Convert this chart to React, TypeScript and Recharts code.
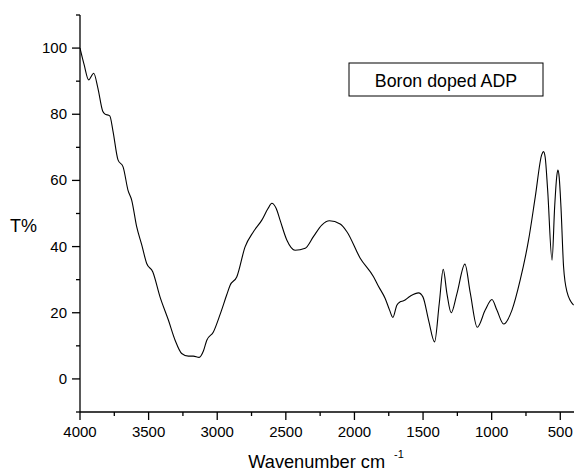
import React from 'react';
import { LineChart, Line, XAxis, YAxis, Customized } from 'recharts';

const wavenumbers = [
  4000, 3970, 3937, 3900, 3870, 3835, 3820, 3783, 3760, 3723, 3686, 3650, 3623, 3587, 3550,
  3514, 3470, 3417, 3356, 3307, 3259, 3210, 3174, 3132, 3100, 3076, 3028, 2979, 2930, 2906,
  2857, 2797, 2736, 2675, 2630, 2602, 2570, 2542, 2493, 2433, 2359, 2299, 2238, 2182, 2104,
  2055, 1958, 1861, 1825, 1776, 1744, 1720, 1691, 1667, 1642, 1594, 1533, 1501, 1460, 1416,
  1382, 1353, 1326, 1295, 1253, 1195, 1156, 1105, 1047, 998, 962, 913, 852, 792, 731,
  682, 635, 622, 610, 592, 560, 541, 525, 517, 508, 495, 476, 451, 403,
];

const transmittance = [
  100, 95, 90.4, 92.4, 88, 81, 80.1, 79.5, 75, 66.2, 64.1, 57, 54, 46, 40.5,
  34.9, 32.4, 24.8, 17.8, 11.7, 7.7, 6.9, 6.9, 6.5, 8.5, 11.7, 14.2, 19.5, 25.5, 28.3,
  30.9, 39.9, 44.5, 48.0, 51.5, 53.1, 51.5, 48.0, 42, 38.9, 39.5, 43, 46.5, 47.8, 46.8,
  44.5, 36.5, 30.9, 28, 24.3, 20.8, 18.6, 22.3, 23.3, 23.6, 25.0, 26.0, 24.8, 17.8, 11.2,
  22.8, 33.1, 25.8, 20.0, 25.8, 34.7, 26, 15.6, 20.8, 24.0, 20.8, 16.6, 20.8, 29.9, 42.0,
  55.1, 67.8, 68.7, 67, 57.1, 35.9, 52, 61.5, 63.1, 61, 52, 33.9, 26.3, 22.3,
];

const xTicks = [4000, 3750, 3500, 3250, 3000, 2750, 2500, 2250, 2000, 1750, 1500, 1250, 1000, 750, 500];
const xLabels = [4000, 3500, 3000, 2500, 2000, 1500, 1000, 500];
const yTicks = [-10, 0, 10, 20, 30, 40, 50, 60, 70, 80, 90, 100, 110];
const yLabels = [0, 20, 40, 60, 80, 100];

const legendText = 'Boron doped ADP';
const yTitle = 'T%';
const xTitle = 'Wavenumber cm';
const xTitleSup = '-1';

const data = wavenumbers.map((w, i) => ({ w, t: transmittance[i] }));

const FONT = '"Liberation Sans", Arial, Helvetica, sans-serif';

const XTick = (props: any) => {
  const { x, y, payload } = props;
  const major = xLabels.includes(payload.value);
  return (
    <g>
      <line x1={x} x2={x} y1={y} y2={y + (major ? 8 : 4)} stroke="#000" strokeWidth={1.3} />
      {major && (
        <text x={x} y={y + 25} textAnchor="middle" fontSize={15} fontFamily={FONT} fill="#000">
          {payload.value}
        </text>
      )}
    </g>
  );
};

const YTick = (props: any) => {
  const { x, y, payload } = props;
  const major = yLabels.includes(payload.value);
  return (
    <g>
      <line x1={x - (major ? 8 : 4)} x2={x} y1={y} y2={y} stroke="#000" strokeWidth={1.3} />
      {major && (
        <text x={x - 13} y={y + 5} textAnchor="end" fontSize={15} fontFamily={FONT} fill="#000">
          {payload.value}
        </text>
      )}
    </g>
  );
};

const Overlay = () => (
  <g>
    <rect x={349} y={63} width={194} height={33} fill="#fff" stroke="#000" strokeWidth={1} />
    <text x={446} y={86.5} textAnchor="middle" fontSize={17.8} fontFamily={FONT} fill="#000">
      {legendText}
    </text>
    <text x={10} y={231.7} fontSize={18} fontFamily={FONT} fill="#000">
      {yTitle}
    </text>
    <text x={248.3} y={468.3} fontSize={18.2} fontFamily={FONT} fill="#000">
      {xTitle}
    </text>
    <text x={394} y={458} fontSize={11} fontFamily={FONT} fill="#000">
      {xTitleSup}
    </text>
  </g>
);

export default function App() {
  return (
    <div style={{ position: 'absolute', left: 0, top: 0, width: 576, height: 475 }}>
      <LineChart
        width={576}
        height={475}
        data={data}
        margin={{ top: 15, right: 2, bottom: 0, left: 0 }}
      >
        <XAxis
          dataKey="w"
          type="number"
          domain={[400, 4000]}
          reversed
          ticks={xTicks}
          interval={0}
          allowDataOverflow
          tickSize={0}
          tickMargin={0}
          tickLine={false}
          tick={<XTick />}
          height={63}
          axisLine={{ stroke: '#000', strokeWidth: 1.3 }}
        />
        <YAxis
          type="number"
          domain={[-10, 110]}
          ticks={yTicks}
          interval={0}
          allowDataOverflow
          tickSize={0}
          tickMargin={0}
          tickLine={false}
          tick={<YTick />}
          width={80}
          axisLine={{ stroke: '#000', strokeWidth: 1.3 }}
        />
        <Line
          dataKey="t"
          type="monotone"
          stroke="#000"
          strokeWidth={1.1}
          dot={false}
          activeDot={false}
          isAnimationActive={false}
        />
        <Customized component={<Overlay />} />
      </LineChart>
    </div>
  );
}
